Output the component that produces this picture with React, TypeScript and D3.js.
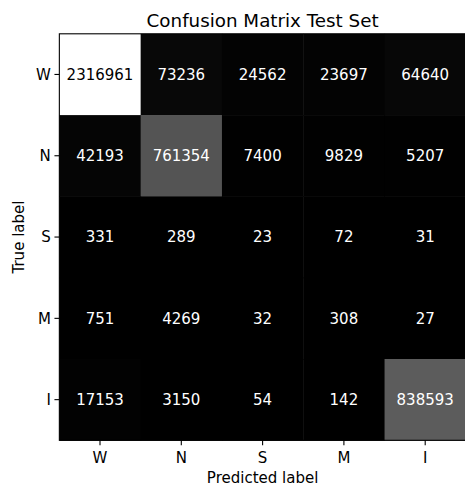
import React from "react";
import * as d3 from "d3";

// Class labels, in the same order for rows (true) and columns (predicted)
const classes = ["W", "N", "S", "M", "I"];

// Counts per true class (row), one entry per predicted class (column)
const rowW = [2316961, 73236, 24562, 23697, 64640];
const rowN = [42193, 761354, 7400, 9829, 5207];
const rowS = [331, 289, 23, 72, 31];
const rowM = [751, 4269, 32, 308, 27];
const rowI = [17153, 3150, 54, 142, 838593];

const matrix = [rowW, rowN, rowS, rowM, rowI];

const title = "Confusion Matrix Test Set";
const xLabel = "Predicted label";
const yLabel = "True label";

const W = 465;
const H = 487;
const left = 59.35;
const right = 465.85;
const top = 33.8;
const bottom = 440.3;
const font = "'DejaVu Sans', sans-serif";

export default function App() {
  const x = d3.scaleBand<string>().domain(classes).range([left, right]);
  const y = d3.scaleBand<string>().domain(classes).range([top, bottom]);
  const all = matrix.flat();
  const vmin = d3.min(all)!;
  const vmax = d3.max(all)!;
  const shade = d3.scaleLinear().domain([vmin, vmax]).range([0, 1]).clamp(true);
  const gray = (v: number) => {
    const g = Math.round(shade(v) * 255);
    return `rgb(${g},${g},${g})`;
  };
  const thresh = vmax / 2;

  const cells = [] as React.ReactNode[];
  const texts = [] as React.ReactNode[];
  matrix.forEach((row, i) => {
    row.forEach((v, j) => {
      const cx = x(classes[j])!;
      const cy = y(classes[i])!;
      cells.push(
        <rect
          key={`c${i}-${j}`}
          x={cx}
          y={cy}
          width={x.bandwidth() + 0.5}
          height={y.bandwidth() + 0.5}
          fill={gray(v)}
        />
      );
      texts.push(
        <text
          key={`t${i}-${j}`}
          x={cx + x.bandwidth() / 2}
          y={cy + y.bandwidth() / 2}
          dy="0.36em"
          textAnchor="middle"
          fontSize={15}
          fill={v > thresh ? "black" : "white"}
        >
          {v}
        </text>
      );
    });
  });

  return (
    <svg
      width={W}
      height={H}
      style={{ position: "absolute", left: 0, top: 0, display: "block", background: "white" }}
      fontFamily={font}
    >
      <g>{cells}</g>
      <g>{texts}</g>
      {/* axes frame */}
      <rect
        x={left}
        y={top}
        width={right - left}
        height={bottom - top}
        fill="none"
        stroke="black"
        strokeWidth={1.1}
      />
      {/* x ticks */}
      {classes.map((c) => {
        const tx = x(c)! + x.bandwidth() / 2;
        return (
          <g key={`xt${c}`}>
            <line x1={tx} x2={tx} y1={bottom} y2={bottom + 4.9} stroke="black" strokeWidth={1.1} />
            <text x={tx} y={462.6} textAnchor="middle" fontSize={15} fill="black">
              {c}
            </text>
          </g>
        );
      })}
      {/* y ticks */}
      {classes.map((c) => {
        const ty = y(c)! + y.bandwidth() / 2;
        return (
          <g key={`yt${c}`}>
            <line x1={left - 4.9} x2={left} y1={ty} y2={ty} stroke="black" strokeWidth={1.1} />
            <text x={left - 8.5} y={ty} dy="0.36em" textAnchor="end" fontSize={15} fill="black">
              {c}
            </text>
          </g>
        );
      })}
      <text x={(left + right) / 2} y={26.5} textAnchor="middle" fontSize={18.3} fill="black">
        {title}
      </text>
      <text x={(left + right) / 2} y={483.2} textAnchor="middle" fontSize={15} fill="black">
        {xLabel}
      </text>
      <text
        transform={`translate(24, ${(top + bottom) / 2}) rotate(-90)`}
        textAnchor="middle"
        fontSize={15}
        fill="black"
      >
        {yLabel}
      </text>
    </svg>
  );
}
